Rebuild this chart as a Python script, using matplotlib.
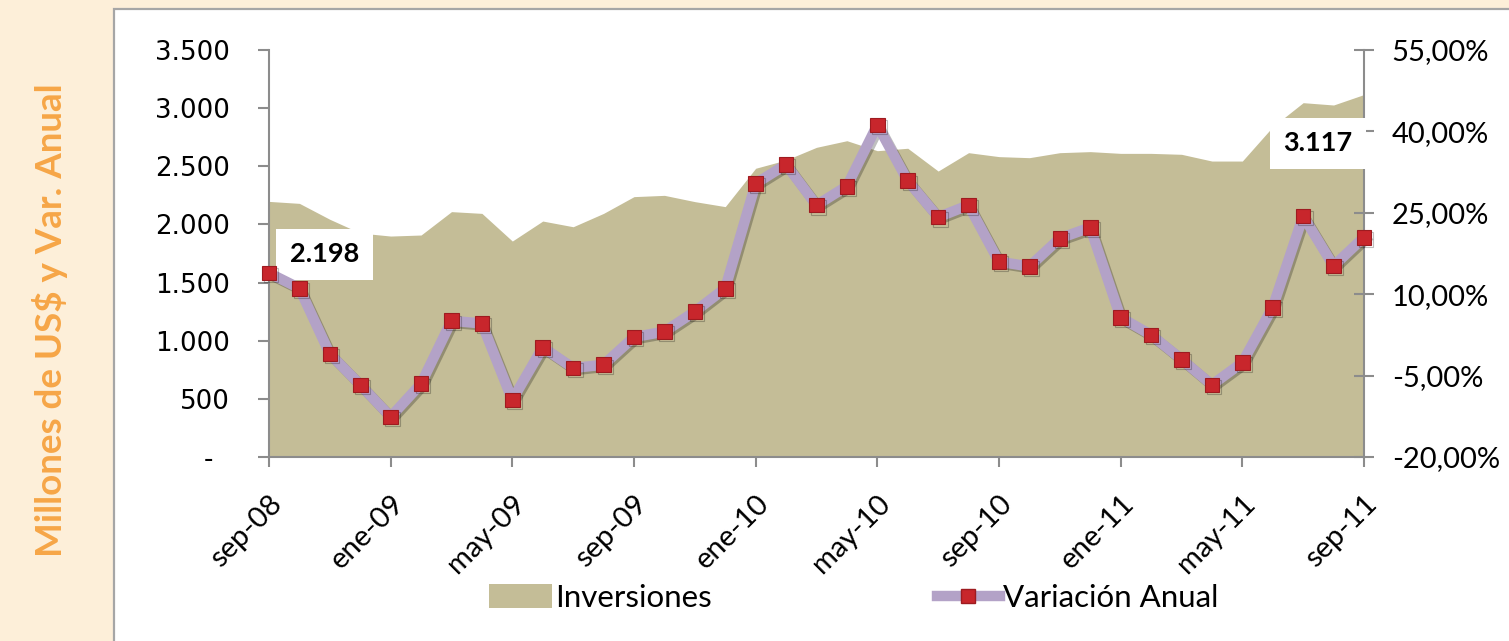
import matplotlib
matplotlib.use("Agg")
import matplotlib.pyplot as plt
import matplotlib.patheffects as pe
from matplotlib.patches import Rectangle
from matplotlib.lines import Line2D
from matplotlib.ticker import FixedLocator, FuncFormatter

# ---------------- data ----------------
meses = ['sep-08', 'oct-08', 'nov-08', 'dic-08', 'ene-09', 'feb-09', 'mar-09', 'abr-09',
         'may-09', 'jun-09', 'jul-09', 'ago-09', 'sep-09', 'oct-09', 'nov-09', 'dic-09',
         'ene-10', 'feb-10', 'mar-10', 'abr-10', 'may-10', 'jun-10', 'jul-10', 'ago-10',
         'sep-10', 'oct-10', 'nov-10', 'dic-10', 'ene-11', 'feb-11', 'mar-11', 'abr-11',
         'may-11', 'jun-11', 'jul-11', 'ago-11', 'sep-11']
inversiones = [2198, 2181, 2044, 1926, 1900, 1909, 2110, 2095, 1857, 2029,
               1980, 2095, 2239, 2250, 2196, 2153, 2483, 2554, 2663, 2720,
               2634, 2655, 2459, 2617, 2583, 2574, 2617, 2626, 2611, 2611,
               2603, 2545, 2545, 2840, 3047, 3027, 3117]
variacion = [13.9, 11.1, -1.0, -6.7, -12.6, -6.5, 5.1, 4.6, -9.5, 0.2,
             -3.6, -3.0, 2.1, 3.1, 6.8, 11.1, 30.4, 33.9, 26.4, 29.9,
             41.2, 30.9, 24.2, 26.4, 16.0, 15.1, 20.3, 22.3, 5.7, 2.5,
             -2.0, -6.7, -2.6, 7.6, 24.4, 15.2, 20.5]
left_ticks = [0, 500, 1000, 1500, 2000, 2500, 3000, 3500]
right_ticks = [-20, -5, 10, 25, 40, 55]
etiqueta_inicio = '2.198'
etiqueta_fin = '3.117'

# ---------------- style ----------------
AREA = '#C4BD97'
LINE = '#B3A2C7'
MARK = '#C8262C'
MARK_EDGE = '#9E1B20'
AXC = '#8C8C8C'
PEACH = '#FDEFD9'
ORANGE = '#F6A647'
CAL = ['Lato', 'DejaVu Sans']

fig = plt.figure(figsize=(15.09, 6.41), dpi=100)
fig.patch.set_facecolor(PEACH)
panel = Rectangle((114 / 1509, -0.01), 1.0, 1 - 9 / 641 + 0.01, transform=fig.transFigure,
                  facecolor='white', edgecolor='#A6A6A6', linewidth=1.6, zorder=-5)
fig.patches.append(panel)

ax = fig.add_axes([269 / 1509, 1 - 457 / 641, (1364 - 269) / 1509, (457 - 50) / 641])
ax.set_facecolor('none')
x = list(range(len(meses)))
ax.fill_between(x, inversiones, 0, color=AREA, linewidth=0, zorder=1)
ax.set_xlim(0, len(meses) - 1)
ax.set_ylim(0, 3500)

ax2 = ax.twinx()
ax2.set_ylim(-20, 55)
ln, = ax2.plot(x, variacion, color=LINE, linewidth=7.5, solid_joinstyle='round',
               marker='s', markersize=10.5, markerfacecolor=MARK, markeredgecolor=MARK_EDGE,
               markeredgewidth=0.8, zorder=4, clip_on=False)
ln.set_path_effects([pe.SimpleLineShadow(offset=(1.5, -1.5), alpha=0.25), pe.Normal()])

# spines
for a in (ax, ax2):
    a.spines['top'].set_visible(False)
    for s in ['left', 'right', 'bottom']:
        a.spines[s].set_color(AXC)
        a.spines[s].set_linewidth(1.5)
ax.spines['right'].set_visible(False)
ax2.spines['left'].set_visible(False)
ax2.spines['bottom'].set_visible(False)

# ticks
ax.yaxis.set_major_locator(FixedLocator(left_ticks))
ax.yaxis.set_major_formatter(FuncFormatter(
    lambda v, p: '-\u2007' if v == 0 else f'{int(v):,}'.replace(',', '.')))
ax.tick_params(axis='y', direction='out', length=8, width=1.5, color=AXC,
               labelsize=18.8, pad=20, labelcolor='black')
for t in ax.get_yticklabels():
    t.set_family('DejaVu Sans')

ax.set_xticks(x[::4])
ax.set_xticklabels(meses[::4])
ax.tick_params(axis='x', direction='out', length=7, width=1.5, color=AXC, labelsize=21,
               pad=17)
for t in ax.get_xticklabels():
    t.set_family(CAL)
    t.set_rotation(45)
    t.set_ha('right')
    t.set_va('top')
    t.set_rotation_mode('anchor')

ax2.yaxis.set_major_locator(FixedLocator(right_ticks))
ax2.yaxis.set_major_formatter(FuncFormatter(lambda v, p: f'{v:.2f}%'.replace('.', ',')))
ax2.tick_params(axis='y', direction='inout', length=14, width=1.5, color=AXC,
                labelsize=21, pad=13)
for t in ax2.get_yticklabels():
    t.set_family(CAL)

# data labels (drawn on ax2 so they cover the right spine)
bbox = dict(boxstyle='square,pad=0.5', facecolor='white', edgecolor='none')
ax2.annotate(etiqueta_inicio, xy=(0, inversiones[0]), xycoords=ax.transData,
             xytext=(40, -38), textcoords='offset points', ha='center', va='center',
             fontsize=19.5, fontweight='bold', family=CAL, bbox=bbox, zorder=3,
             annotation_clip=False)
ax2.annotate(etiqueta_fin, xy=(len(meses) - 1, inversiones[-1]), xycoords=ax.transData,
             xytext=(-33, -35), textcoords='offset points', ha='center', va='center',
             fontsize=19.5, fontweight='bold', family=CAL, bbox=bbox, zorder=3,
             annotation_clip=False)

# y label
fig.text(50 / 1509, 1 - 320 / 641, 'Millones de US$ y Var. Anual', rotation=90,
         ha='center', va='center', color=ORANGE, fontsize=26.5, fontweight='bold', family=CAL)

# legend
h1 = Rectangle((0, 0), 1, 1, facecolor=AREA, edgecolor='none')
h2 = Line2D([], [], color=LINE, linewidth=7.5, marker='s', markersize=10.5,
            markerfacecolor=MARK, markeredgecolor=MARK_EDGE)
leg = fig.legend([h1, h2], ['Inversiones', 'Variación Anual'], loc='center',
                 bbox_to_anchor=(854 / 1509, 1 - 598 / 641), ncol=2, frameon=False,
                 prop={'family': CAL, 'size': 22.5}, handlelength=2.0, handleheight=0.8,
                 columnspacing=7.2, handletextpad=0.12)

fig.savefig('out.png', dpi=100, facecolor=fig.get_facecolor())
